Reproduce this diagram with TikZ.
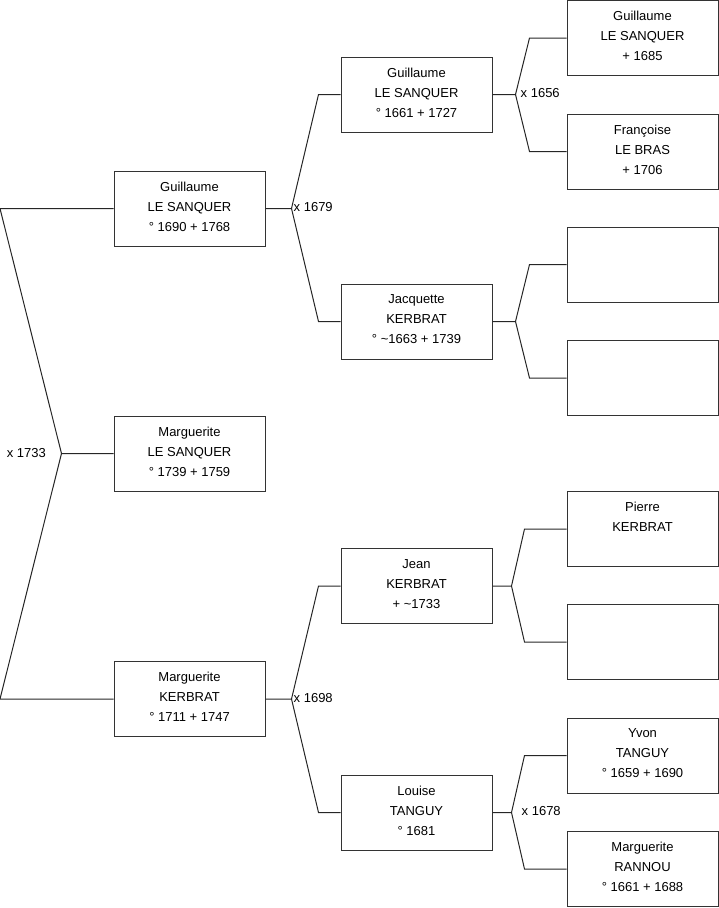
\documentclass[tikz,border=0pt]{standalone}
\usepackage{fontspec}
\setmainfont{Liberation Sans}
\usetikzlibrary{calc}
\begin{document}
\begin{tikzpicture}[x=1pt,y=-1pt,
  person/.style={draw=black!80, line width=1pt, minimum width=151pt, minimum height=75pt,
    inner sep=0pt, align=center, font=\fontsize{13}{20}\selectfont,
    execute at end node={\rule[-4pt]{0pt}{4pt}}},
  link/.style={draw=black!85, line width=1pt},
  wed/.style={inner sep=0pt, font=\fontsize{13}{16}\selectfont}]
\useasboundingbox (0,0) rectangle (719,908);
\coordinate (L) at (0,0);
% generation 1
\node[person] (f) at (189.5,208.5) {Guillaume\\LE SANQUER\\° 1690 + 1768};
\node[person] (c) at (189.5,453.5) {Marguerite\\LE SANQUER\\° 1739 + 1759};
\node[person] (m) at (189.5,699) {Marguerite\\KERBRAT\\° 1711 + 1747};
% generation 2
\node[person] (ff) at (416.5,94.5) {Guillaume\\LE SANQUER\\° 1661 + 1727};
\node[person] (fm) at (416.5,321.5) {Jacquette\\KERBRAT\\° \textasciitilde 1663 + 1739};
\node[person] (mf) at (416.5,586) {Jean\\KERBRAT\\+ \textasciitilde 1733};
\node[person] (mm) at (416.5,812.5) {Louise\\TANGUY\\° 1681};
% generation 3
\node[person] (fff) at (642.5,38) {Guillaume\\LE SANQUER\\+ 1685};
\node[person] (ffm) at (642.5,151.5) {Françoise\\LE BRAS\\+ 1706};
\node[person] (fmf) at (642.5,264.5) {};
\node[person] (fmm) at (642.5,378) {};
\node[person] (mff) at (642.5,529) {Pierre\\KERBRAT\\\mbox{}};
\node[person] (mfm) at (642.5,642) {};
\node[person] (mmf) at (642.5,755.5) {Yvon\\TANGUY\\° 1659 + 1690};
\node[person] (mmm) at (642.5,869) {Marguerite\\RANNOU\\° 1661 + 1688};
% vertices
\coordinate (v0) at ($(c.west)+(-52,0)$);
\coordinate (v1) at ($(f.east)+(26,0)$);
\coordinate (v2) at ($(m.east)+(26,0)$);
\coordinate (vff) at ($(ff.east)+(23,0)$);
\coordinate (vfm) at ($(fm.east)+(23,0)$);
\coordinate (vmf) at ($(mf.east)+(19,0)$);
\coordinate (vmm) at ($(mm.east)+(19,0)$);
% connectors
\draw[link] (c.west) -- (v0) -- (f.west -| L) -- (f.west);
\draw[link] (v0) -- (m.west -| L) -- (m.west);
\draw[link] (f.east) -- (v1) -- ($(ff.west)+(-22,0)$) -- (ff.west);
\draw[link] (v1) -- ($(fm.west)+(-22,0)$) -- (fm.west);
\draw[link] (m.east) -- (v2) -- ($(mf.west)+(-22,0)$) -- (mf.west);
\draw[link] (v2) -- ($(mm.west)+(-22,0)$) -- (mm.west);
\draw[link] (ff.east) -- (vff) -- ($(fff.west)+(-37,0)$) -- (fff.west);
\draw[link] (vff) -- ($(ffm.west)+(-37,0)$) -- (ffm.west);
\draw[link] (fm.east) -- (vfm) -- ($(fmf.west)+(-37,0)$) -- (fmf.west);
\draw[link] (vfm) -- ($(fmm.west)+(-37,0)$) -- (fmm.west);
\draw[link] (mf.east) -- (vmf) -- ($(mff.west)+(-42,0)$) -- (mff.west);
\draw[link] (vmf) -- ($(mfm.west)+(-42,0)$) -- (mfm.west);
\draw[link] (mm.east) -- (vmm) -- ($(mmf.west)+(-42,0)$) -- (mmf.west);
\draw[link] (vmm) -- ($(mmm.west)+(-42,0)$) -- (mmm.west);
% marriage labels
\node[wed, anchor=east] (w0) at (46,453) {x 1733};
\node[wed, anchor=west] (w1) at ($(v1)+(2,-1)$) {x 1679};
\node[wed, anchor=west] (w2) at ($(v2)+(2,-1)$) {x 1698};
\node[wed, anchor=west] (w3) at ($(vff)+(5,-1.5)$) {x 1656};
\node[wed, anchor=west] (w4) at ($(vmm)+(10,-1.5)$) {x 1678};
\end{tikzpicture}
\end{document}
